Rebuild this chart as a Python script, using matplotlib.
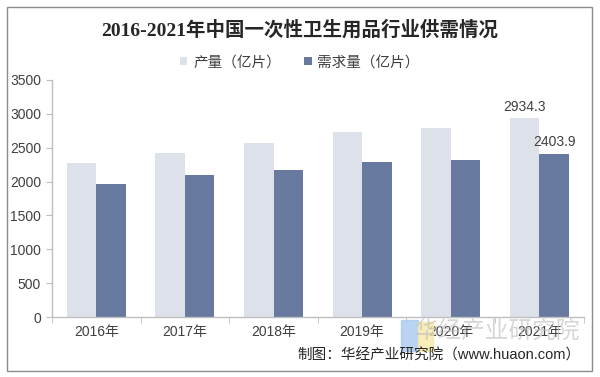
import numpy as np
import matplotlib.pyplot as plt
from matplotlib.patches import Rectangle

plt.rcParams['font.family'] = ['Liberation Sans', 'Noto Sans CJK SC', 'DejaVu Sans']

years = ['2016年', '2017年', '2018年', '2019年', '2020年', '2021年']
production = [2274, 2422, 2565, 2728, 2796, 2934.3]
demand = [1964, 2097, 2171, 2289, 2319, 2403.9]
yticks = [0, 500, 1000, 1500, 2000, 2500, 3000, 3500]

c_prod = '#DCE1EA'
c_dem = '#67799F'
txt = '#404040'

fig = plt.figure(figsize=(6, 3.77), dpi=100)
ax = fig.add_axes([0.0867, 0.159, 0.886, 0.629])

x = np.arange(len(years))
w = 0.333
ax.bar(x - w / 2, production, width=w, color=c_prod, label='产量（亿片）')
ax.bar(x + w / 2, demand, width=w, color=c_dem, label='需求量（亿片）')

# labels only on the last year
ax.text(x[-1] - w / 2, production[-1] + 70, f'{production[-1]:.1f}',
        ha='center', va='bottom', fontsize=10, color=txt)
ax.text(x[-1] + w / 2, demand[-1] + 70, f'{demand[-1]:.1f}',
        ha='center', va='bottom', fontsize=10, color=txt)

ax.set_xlim(-0.5, len(years) - 0.5)
ax.set_ylim(0, 3500)
ax.set_yticks(yticks)
ax.set_yticklabels([str(v) for v in yticks], fontsize=10, color=txt)
ax.set_xticks(x)
ax.set_xticklabels(years, fontsize=10, color=txt)
ax.set_xticks(np.arange(-0.5, len(years), 1), minor=True)
ax.tick_params(axis='x', which='major', length=0, pad=6)
ax.tick_params(axis='x', which='minor', length=4, color='#BFBFBF')
ax.tick_params(axis='y', length=4, color='#BFBFBF', pad=4)

for s in ['top', 'right']:
    ax.spines[s].set_visible(False)
for s in ['left', 'bottom']:
    ax.spines[s].set_color('#BFBFBF')
    ax.spines[s].set_linewidth(1.0)

fig.text(0.5, 0.92, '2016-2021年中国一次性卫生用品行业供需情况', ha='center', va='center',
         fontsize=14, fontweight='bold', color='#262626',
         family=['Liberation Serif', 'Noto Sans CJK SC'])

ax.legend(loc='center', bbox_to_anchor=(0.5, 0.835), bbox_transform=fig.transFigure,
          ncol=2, frameon=False, fontsize=10.5, handlelength=0.5, handleheight=0.5,
          columnspacing=1.6, handletextpad=0.4, labelcolor=txt)

# watermark logo
fig.patches.append(Rectangle((0.668, 0.07), 0.028, 0.08, transform=fig.transFigure,
                             color='#A9C8F0', alpha=0.8, zorder=5))
fig.patches.append(Rectangle((0.696, 0.07), 0.026, 0.075, transform=fig.transFigure,
                             color='#F8E9A8', alpha=0.8, zorder=5))
fig.text(0.83, 0.12, '华经产业研究院', ha='center', va='center', fontsize=17,
         color='#BBBBBB', alpha=0.6, zorder=6)

fig.text(0.968, 0.057, '制图：华经产业研究院（www.huaon.com）', ha='right', va='center',
         fontsize=10.5, color='#262626', zorder=7)

# outer frame
fig.patches.append(Rectangle((0.012, 0.016), 0.975, 0.966, transform=fig.transFigure,
                             fill=False, edgecolor='#8C8C8C', linewidth=1.0))

fig.savefig('out.png', dpi=100)
